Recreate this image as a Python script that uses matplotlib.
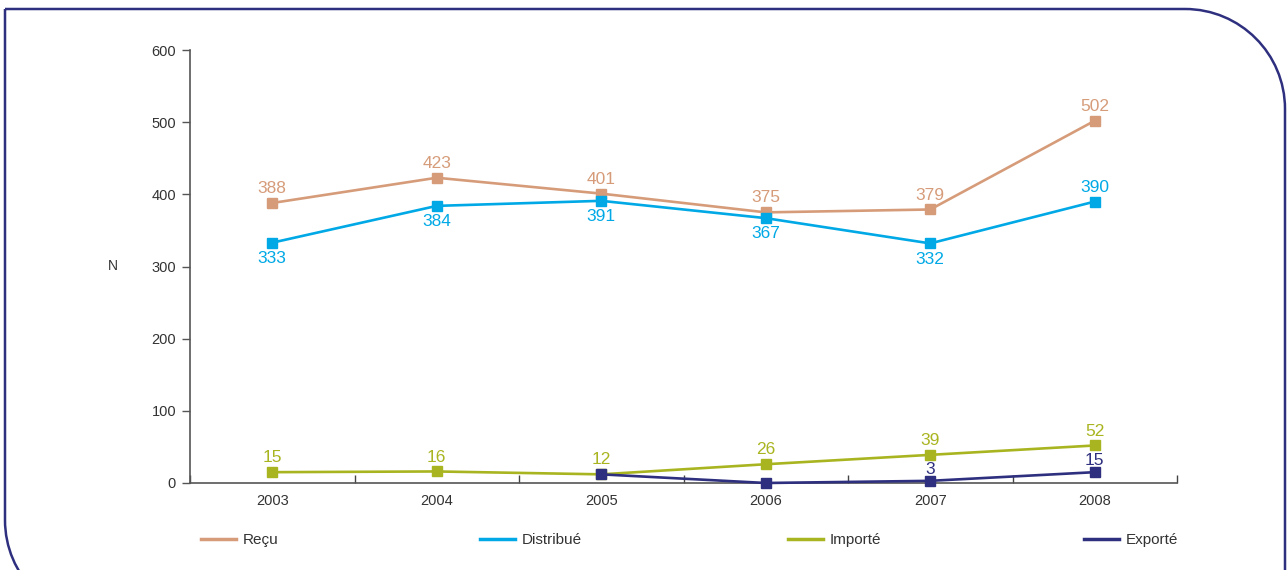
import matplotlib.pyplot as plt
from matplotlib.path import Path
from matplotlib.patches import PathPatch
from matplotlib.lines import Line2D

# Données
annees = ["2003", "2004", "2005", "2006", "2007", "2008"]
recu = [388, 423, 401, 375, 379, 502]
distribue = [333, 384, 391, 367, 332, 390]
importe = [15, 16, 12, 26, 39, 52]
exporte = [None, None, 12, 0, 3, 15]
exporte_labels = [None, None, None, None, "3", "15"]

couleurs = {"Reçu": "#D69C7A", "Distribué": "#00A9E6", "Importé": "#A9B520", "Exporté": "#2E2F7E"}

plt.rcParams['font.family'] = ['Liberation Sans', 'DejaVu Sans']

fig = plt.figure(figsize=(12.88, 5.7), dpi=100)
ax = fig.add_axes([190 / 1288, 1 - 483 / 570, (1177 - 190) / 1288, (483 - 50) / 570])

x = list(range(len(annees)))

def trace(valeurs, nom, labels=None, dessous=None, ecart=5):
    xs = [i for i, v in zip(x, valeurs) if v is not None]
    ys = [v for v in valeurs if v is not None]
    c = couleurs[nom]
    ax.plot(xs, ys, color=c, lw=1.9, marker="s", ms=6.5, clip_on=False, zorder=3)
    for i, v in zip(xs, ys):
        txt = str(v) if labels is None else labels[i]
        if txt is None:
            continue
        bas = dessous is not None and dessous[i]
        ax.annotate(txt, (i, v), xytext=(0, -6 if bas else ecart), textcoords="offset points",
                    ha="center", va="top" if bas else "bottom", color=c, fontsize=12.5,
                    zorder=5)

trace(recu, "Reçu")
trace(distribue, "Distribué", dessous=[True, True, True, True, True, False])
trace(importe, "Importé")
trace(exporte, "Exporté", labels=exporte_labels, ecart=3)

ax.set_xlim(-0.5, 5.5)
ax.set_ylim(0, 600)
ax.set_yticks(range(0, 601, 100))
ax.set_xticks(x)
ax.set_xticklabels(annees)
ax.set_xticks([i - 0.5 for i in range(len(annees) + 1)], minor=True)
ax.tick_params(axis="x", which="major", length=0, pad=8, labelsize=10.5, labelcolor="#333333")
ax.tick_params(axis="x", which="minor", direction="in", length=6, color="#444444", width=1)
ax.tick_params(axis="y", length=6, color="#555555", width=1, labelsize=10.5, labelcolor="#333333", pad=4)
for s in ["top", "right"]:
    ax.spines[s].set_visible(False)
for s in ["left", "bottom"]:
    ax.spines[s].set_color("#555555")
    ax.spines[s].set_linewidth(1.2)
ax.set_ylabel("N", rotation=0, fontsize=10, color="#333333", labelpad=28, va="center")

# Légende
handles = [Line2D([0], [0], color=couleurs[n], lw=2.5) for n in couleurs]
pos_x = [198, 477, 785, 1081]
for h, n, px in zip(handles, couleurs, pos_x):
    fig.legend([h], [n], loc="center left", bbox_to_anchor=(px / 1288 - 0.0085, 1 - 540 / 570),
               frameon=False, fontsize=11, handlelength=2.3, handletextpad=0.45, labelcolor="#333333")

# Cadre arrondi
W, H = 1288, 570
x0, x1, y0, y1 = 5 / W, 1285 / W, 1 - 9 / H, 1 - 580 / H
rx, ry = 100 / W, 100 / H
k = 0.5523
verts = [
    (x0, y0), (x1 - rx, y0),
    (x1 - rx + k * rx, y0), (x1, y0 - ry + k * ry), (x1, y0 - ry),
    (x1, y1),
    (x0 + rx, y1 - 40 / H),
    (x0 + rx - k * rx, y1 - 40 / H), (x0, y1 - 40 / H + ry - k * ry), (x0, y1 - 40 / H + ry),
    (x0, y0),
]
codes = [Path.MOVETO, Path.LINETO, Path.CURVE4, Path.CURVE4, Path.CURVE4, Path.LINETO,
         Path.MOVETO, Path.CURVE4, Path.CURVE4, Path.CURVE4, Path.LINETO]
fig.patches.append(PathPatch(Path(verts, codes), transform=fig.transFigure, fill=False,
                             edgecolor="#2E2F7E", lw=1.8))

fig.savefig("out.png", dpi=100)
